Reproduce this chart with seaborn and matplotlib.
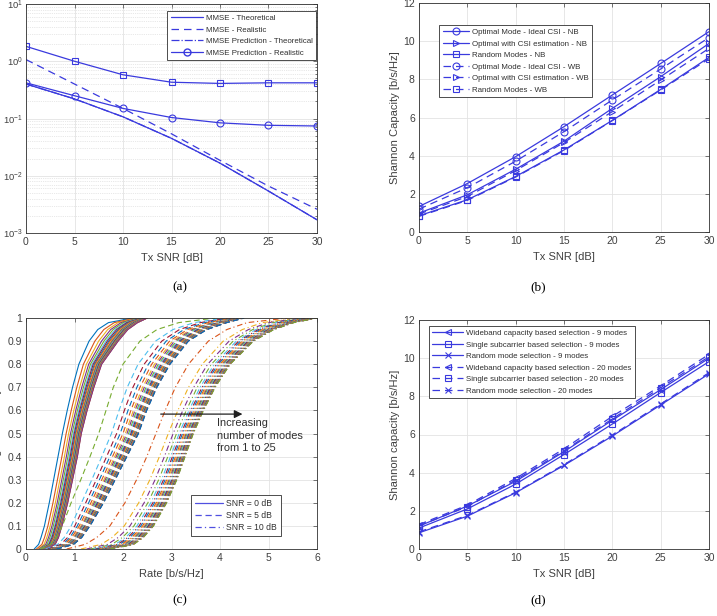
import matplotlib
matplotlib.use("Agg")
import matplotlib.pyplot as plt
import seaborn as sns
import numpy as np
import pandas as pd
from matplotlib.lines import Line2D

sns.set_theme(style="white")
plt.rcParams['font.family'] = ['Liberation Sans', 'DejaVu Sans']
plt.rcParams['mathtext.fontset'] = 'custom'
plt.rcParams['mathtext.rm'] = 'Liberation Sans'

BLUE = '#3a3ade'
TXT = '#404040'
MATLAB = ['#0072BD', '#D95319', '#EDB120', '#7E2F8E', '#77AC30', '#4DBEEE', '#A2142F']

# ---------------- data ----------------
snr = [0, 5, 10, 15, 20, 25, 30]

# (a) MSE
mmse_theo = [0.40, 0.22, 0.107, 0.045, 0.0166, 0.0054, 0.0017]
mmse_real = [1.07, 0.40, 0.15, 0.054, 0.0186, 0.0066, 0.0026]
pred_theo = [0.40, 0.22, 0.107, 0.045, 0.0166, 0.0054, 0.0017]
pred_real = [0.42, 0.25, 0.15, 0.104, 0.084, 0.076, 0.074]
pred_upper = [1.82, 1.0, 0.58, 0.43, 0.41, 0.42, 0.42]

# (b) capacity
opt_ideal_nb = [1.34, 2.54, 3.95, 5.52, 7.18, 8.83, 10.50]
opt_est_nb = [0.99, 1.95, 3.29, 4.76, 6.48, 8.14, 9.88]
rand_nb = [0.85, 1.69, 2.91, 4.30, 5.85, 7.47, 9.15]
opt_ideal_wb = [1.20, 2.32, 3.71, 5.26, 6.92, 8.54, 10.19]
opt_est_wb = [0.94, 1.86, 3.22, 4.69, 6.31, 7.96, 9.62]
rand_wb = [0.82, 1.66, 2.88, 4.27, 5.84, 7.44, 9.08]

# (d) capacity vs modes
wb9 = [1.20, 2.25, 3.55, 5.10, 6.75, 8.35, 10.00]
ss9 = [1.10, 2.10, 3.40, 4.95, 6.55, 8.20, 9.82]
rnd9 = [0.85, 1.72, 2.95, 4.38, 5.92, 7.55, 9.18]
wb20 = [1.28, 2.30, 3.70, 5.25, 6.95, 8.55, 10.20]
ss20 = [1.22, 2.22, 3.62, 5.15, 6.82, 8.45, 10.08]
rnd20 = [0.90, 1.76, 2.98, 4.42, 5.97, 7.60, 9.24]

# (c) outage CDFs: rate read at these probability levels
prob_levels = [0, 0.02, 0.05, 0.1, 0.2, 0.3, 0.4, 0.5, 0.6, 0.7, 0.8, 0.9, 0.95, 0.98, 1.0]
snr0_first = [0.17, 0.26, 0.31, 0.38, 0.48, 0.57, 0.66, 0.75, 0.85, 0.96, 1.09, 1.30, 1.48, 1.70, 2.20]
snr0_last = [0.40, 0.60, 0.67, 0.74, 0.86, 0.96, 1.06, 1.14, 1.26, 1.40, 1.56, 1.90, 2.10, 2.30, 2.50]
snr5_first = [0.30, 0.50, 0.62, 0.75, 0.93, 1.13, 1.32, 1.50, 1.65, 1.80, 2.00, 2.35, 2.70, 3.15, 3.90]
snr5_last = [0.63, 0.98, 1.15, 1.32, 1.60, 1.84, 2.08, 2.32, 2.49, 2.70, 2.97, 3.35, 3.73, 4.14, 4.50]
snr10_first = [0.84, 1.22, 1.46, 1.73, 2.04, 2.28, 2.49, 2.68, 2.87, 3.08, 3.35, 3.76, 4.14, 4.56, 5.40]
snr10_last = [1.73, 2.22, 2.42, 2.63, 2.90, 3.11, 3.28, 3.45, 3.66, 3.90, 4.21, 4.69, 5.11, 5.52, 6.00]
# relative position of each of the 25 mode curves between first and last
mode_pos_0 = [0, .20, .33, .43, .51, .58, .63, .68, .72, .76, .79, .82, .85, .87, .89,
              .91, .925, .94, .95, .96, .97, .98, .987, .994, 1]
mode_pos_5 = [0, .32, .45, .54, .61, .67, .71, .75, .78, .81, .835, .86, .88, .90, .915,
              .93, .94, .95, .96, .97, .978, .985, .99, .995, 1]
mode_pos_10 = [0, .33, .46, .55, .62, .67, .71, .75, .78, .81, .835, .86, .88, .90, .915,
               .93, .94, .95, .96, .97, .978, .985, .99, .995, 1]

# ---------------- figure ----------------
fig = plt.figure(figsize=(7.17, 6.16), dpi=100)
W, H = 717, 616
LAB = 8


def add_ax(l, r, t, b):
    return fig.add_axes([l / W, 1 - b / H, (r - l) / W, (b - t) / H])


def style(ax, ls=7.5):
    ax.tick_params(which='both', direction='in', top=True, right=True, colors=TXT, width=0.5)
    ax.tick_params(which='major', labelsize=ls, length=3, pad=3)
    ax.tick_params(which='minor', length=1.8)
    ax.grid(True, which='major', color='#e3e3e3', lw=0.6)
    for s in ax.spines.values():
        s.set_color('#303030')
        s.set_linewidth(0.6)
    ax.set_axisbelow(True)


def legend(ax, handles=None, fs=5.7, hl=3.4, lsp=0.5, **kw):
    leg = ax.legend(handles=handles, fontsize=fs, labelspacing=lsp, handlelength=hl,
                    borderpad=0.45, handletextpad=0.4, fancybox=False, framealpha=1,
                    edgecolor='#303030', borderaxespad=0, **kw)
    leg.get_frame().set_linewidth(0.6)
    for t in leg.get_texts():
        t.set_color('#303030')
    return leg


def line(ax, x, y, ls='-', marker=None, label=None, color=BLUE, lw=0.9, ms=5):
    df = pd.DataFrame({'x': x, 'y': y})
    sns.lineplot(data=df, x='x', y='y', ax=ax, color=color, linestyle=ls, lw=lw,
                 marker=marker, markersize=ms, markerfacecolor='none', markeredgecolor=color,
                 markeredgewidth=0.8, label=label, sort=False, estimator=None)


# ---- (a)
axa = add_ax(26, 317, 4, 233)
line(axa, snr, pred_theo, ls='-.', label='_p')
line(axa, snr, mmse_theo, ls='-', label='_t')
line(axa, snr, mmse_real, ls=(0, (6, 4)), label='_m')
line(axa, snr, pred_upper, ls='-', marker='s', label='_u')
line(axa, snr, pred_real, ls='-', marker='o', label='_r')
axa.set_yscale('log')
axa.set_xlim(0, 30)
axa.set_ylim(1e-3, 1e1)
axa.set_xticks(range(0, 31, 5))
style(axa)
axa.tick_params(axis='y', which='major', labelsize=6.8, pad=2)
axa.grid(True, which='minor', color='#d2d2d2', lw=0.5, ls=':')
axa.set_xlabel('Tx SNR [dB]', fontsize=LAB, color=TXT, labelpad=4)
axa.set_ylabel('Normalized MSE', fontsize=LAB, color=TXT)
axa.yaxis.set_label_coords(-0.082, 0.5)
ha = [Line2D([], [], color=BLUE, lw=0.9, ls='-', label='MMSE - Theoretical'),
      Line2D([], [], color=BLUE, lw=0.9, ls=(0, (6, 4)), label='MMSE - Realistic'),
      Line2D([], [], color=BLUE, lw=0.9, ls='-.', label='MMSE Prediction - Theoretical'),
      Line2D([], [], color=BLUE, lw=0.9, ls='-', marker='o', mfc='none', ms=5,
             label='MMSE Prediction - Realistic')]
legend(axa, handles=ha, hl=4.0, loc='upper right', bbox_to_anchor=(0.997, 0.969))

# ---- (b)
axb = add_ax(419, 709, 3, 232)
line(axb, snr, opt_ideal_nb, '-', 'o', 'Optimal Mode - Ideal CSI - NB')
line(axb, snr, opt_est_nb, '-', '>', 'Optimal with CSI estimation - NB')
line(axb, snr, rand_nb, '-', 's', 'Random Modes - NB')
line(axb, snr, opt_ideal_wb, (0, (6, 4)), 'o', 'Optimal Mode - Ideal CSI - WB')
line(axb, snr, opt_est_wb, (0, (6, 4)), '>', 'Optimal with CSI estimation - WB')
line(axb, snr, rand_wb, (0, (6, 4)), 's', 'Random Modes - WB')
axb.set_xlim(0, 30)
axb.set_ylim(0, 12)
axb.set_xticks(range(0, 31, 5))
axb.set_yticks(range(0, 13, 2))
style(axb)
axb.set_xlabel('Tx SNR [dB]', fontsize=LAB, color=TXT, labelpad=4)
axb.set_ylabel('Shannon Capacity [b/s/Hz]', fontsize=LAB, color=TXT, labelpad=2)
legend(axb, hl=3.3, loc='upper left', bbox_to_anchor=(0.069, 0.904))

# ---- (c)
axc = add_ax(26, 317, 318, 549)
groups = [(snr0_first, snr0_last, mode_pos_0, '-'),
          (snr5_first, snr5_last, mode_pos_5, (0, (5, 3))),
          (snr10_first, snr10_last, mode_pos_10, (0, (5, 2.5, 1, 2.5)))]
k = 0
for first, last, pos, ls in groups:
    f = np.array(first)
    l = np.array(last)
    for w in pos:
        xs = f + w * (l - f)
        df = pd.DataFrame({'rate': xs, 'p': prob_levels})
        sns.lineplot(data=df, x='rate', y='p', ax=axc, color=MATLAB[k % 7], lw=0.8,
                     linestyle=ls, sort=False, estimator=None)
        k += 1
axc.set_xlim(0, 6)
axc.set_ylim(0, 1)
axc.set_xticks(range(0, 7))
axc.set_yticks(np.arange(0, 1.01, 0.1))
axc.set_yticklabels(['0', '0.1', '0.2', '0.3', '0.4', '0.5', '0.6', '0.7', '0.8', '0.9', '1'])
style(axc)
axc.set_xlabel('Rate [b/s/Hz]', fontsize=LAB, color=TXT, labelpad=4)
axc.set_ylabel('Outage Probability', fontsize=LAB, color=TXT)
axc.yaxis.set_label_coords(-0.082, 0.5)
axc.annotate('', xy=(4.52, 0.584), xytext=(2.72, 0.584),
             arrowprops=dict(arrowstyle='-|>', color='#202020', lw=0.9, mutation_scale=12))
axc.text(3.94, 0.565, 'Increasing\nnumber of modes\nfrom 1 to 25', fontsize=7.9,
         color='#303030', va='top', ha='left', linespacing=1.3)
hc = [Line2D([], [], color='#5050e0', lw=0.9, ls='-', label='SNR = 0 dB'),
      Line2D([], [], color='#5050e0', lw=0.9, ls=(0, (5, 3)), label='SNR = 5 dB'),
      Line2D([], [], color='#5050e0', lw=0.9, ls=(0, (5, 2.5, 1, 2.5)), label='SNR = 10 dB')]
legend(axc, handles=hc, fs=6.2, hl=3.2, lsp=0.35, loc='lower right', bbox_to_anchor=(0.876, 0.056))

# ---- (d)
axd = add_ax(419, 709, 320, 549)
line(axd, snr, wb9, '-', '<', 'Wideband capacity based selection - 9 modes')
line(axd, snr, ss9, '-', 's', 'Single subcarrier based selection - 9 modes')
line(axd, snr, rnd9, '-', 'x', 'Random mode selection - 9 modes')
line(axd, snr, wb20, (0, (6, 4)), '<', 'Wideband capacity based selection - 20 modes')
line(axd, snr, ss20, (0, (6, 4)), 's', 'Single subcarrier based selection - 20 modes')
line(axd, snr, rnd20, (0, (6, 4)), 'x', 'Random mode selection - 20 modes')
axd.set_xlim(0, 30)
axd.set_ylim(0, 12)
axd.set_xticks(range(0, 31, 5))
axd.set_yticks(range(0, 13, 2))
style(axd)
axd.set_xlabel('Tx SNR [dB]', fontsize=LAB, color=TXT, labelpad=4)
axd.set_ylabel('Shannon capacity [b/s/Hz]', fontsize=LAB, color=TXT, labelpad=2)
legend(axd, hl=3.9, loc='upper left', bbox_to_anchor=(0.034, 0.974))

for lab, x, y in [('(a)', 180, 287), ('(b)', 538, 287), ('(c)', 180, 600), ('(d)', 538, 600)]:
    fig.text(x / W, 1 - y / H, lab, ha='center', va='center', fontsize=9.5,
             family='Liberation Serif', color='black')

fig.savefig('out.png', dpi=100)
